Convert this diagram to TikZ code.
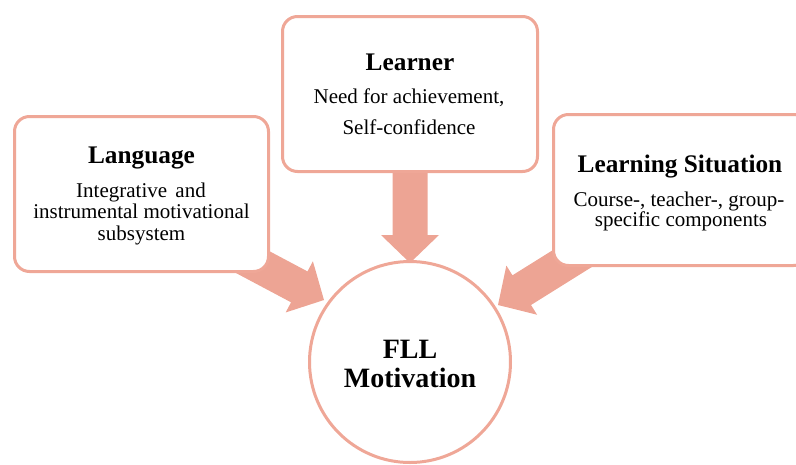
\documentclass[tikz,border=0pt]{standalone}
\usepackage{fontspec}
\setmainfont{Liberation Serif}
\usetikzlibrary{calc}
\definecolor{salmonline}{RGB}{239,167,151}
\definecolor{salmonfill}{RGB}{237,164,148}
\tikzset{
  box/.style={draw=salmonline, line width=3pt, fill=white, rounded corners=15pt, inner sep=0pt},
  hub/.style={circle, draw=salmonline, line width=3pt, fill=white, minimum size=201pt, inner sep=0pt},
  titletext/.style={anchor=base, inner sep=0pt, font=\fontsize{25.3}{29}\selectfont\bfseries},
  bodytext/.style={anchor=base, inner sep=0pt, font=\fontsize{21}{25}\selectfont},
  hubtext/.style={anchor=base, inner sep=0pt, font=\fontsize{28}{32}\selectfont\bfseries},
  blockarrow/.style={fill=salmonfill}
}
\newcommand\blockarr[3]{%
  \coordinate (#3h) at ($(#2)!28pt!(#1)$);
  \fill[blockarrow] ($(#1)!17.5pt!90:(#2)$) -- ($(#3h)!17.5pt!90:(#2)$) -- ($(#3h)!29pt!90:(#2)$) -- (#2)
    -- ($(#3h)!29pt!-90:(#2)$) -- ($(#3h)!17.5pt!-90:(#2)$) -- ($(#1)!17.5pt!-90:(#2)$) -- cycle;
}
\begin{document}
\begin{tikzpicture}[x=1pt, y=-1pt]
  \useasboundingbox (0,0) rectangle (796,464);
  \clip (0,0) rectangle (796,464);

  % arrow ends
  \coordinate (langtail) at (182.7,224.9);
  \coordinate (langtip)  at (324,300);
  \coordinate (learntail) at (410,120);
  \coordinate (learntip)  at (410,263);
  \coordinate (sittail) at (633.7,220.2);
  \coordinate (sittip)  at (498,305);

  \blockarr{langtail}{langtip}{la}
  \blockarr{learntail}{learntip}{le}
  \blockarr{sittail}{sittip}{si}

  % boxes
  \node[box, minimum width=254pt, minimum height=155pt] (lang) at (141.5,194) {};
  \node[box, minimum width=255pt, minimum height=155pt] (learner) at (410,94) {};
  \node[box, minimum width=255pt, minimum height=151pt] (situation) at (681,190) {};
  \node[hub] (fll) at (410,362) {};

  % texts
  \node[titletext] (langtitle) at (141.5,163) {Language};
  \node[bodytext] (lang1) at (141,197) {Integrative\hspace{3pt} and};
  \node[bodytext] (lang2) at (141.5,218.5) {instrumental motivational};
  \node[bodytext] (lang3) at (141.5,240) {subsystem};

  \node[titletext] (learntitle) at (410,70) {Learner};
  \node[bodytext] (learn1) at (409,103) {Need for achievement,};
  \node[bodytext] (learn2) at (409,134) {Self-confidence};

  \node[titletext] (sittitle) at (680,172) {Learning Situation};
  \node[bodytext] (sit1) at (679,206) {Course-, teacher-, group-};
  \node[bodytext] (sit2) at (681,226) {specific components};

  \node[hubtext] (fll1) at (410,358) {FLL};
  \node[hubtext] (fll2) at (410,387) {Motivation};
\end{tikzpicture}
\end{document}
